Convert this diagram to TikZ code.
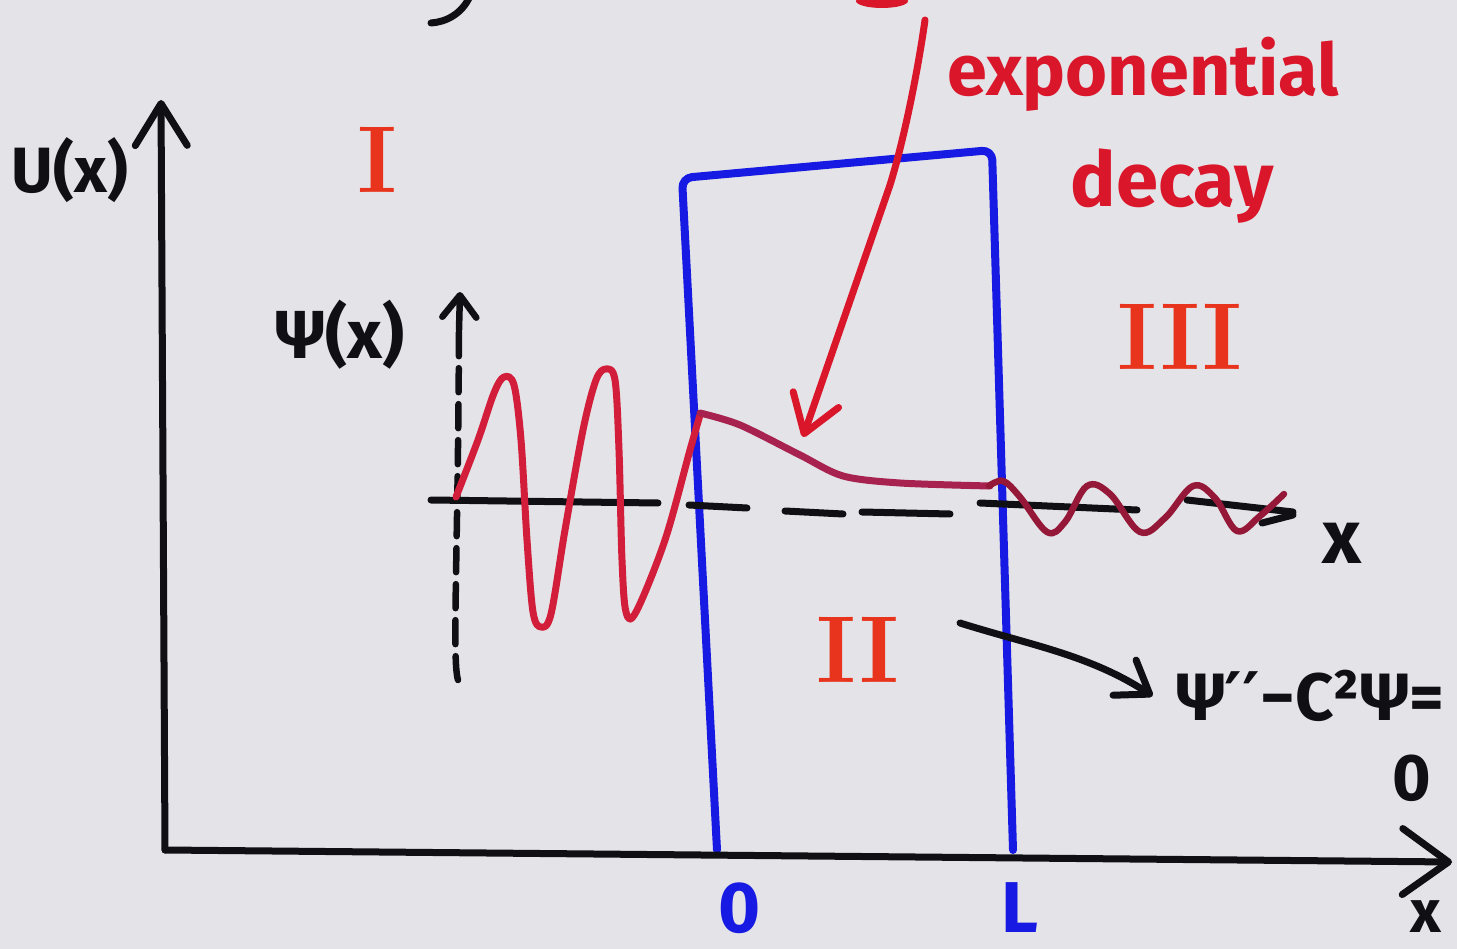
\documentclass[tikz,border=0pt]{standalone}
\usepackage{fontspec}
\newfontfamily\hand{Fira Sans}
\newfontfamily\dvsans{DejaVu Sans}
\usetikzlibrary{arrows.meta}
\definecolor{paper}{RGB}{228,228,232}
\definecolor{inkred}{RGB}{218,22,42}
\definecolor{wavered}{RGB}{210,30,58}
\definecolor{decayred}{RGB}{168,34,80}
\definecolor{darkwave}{RGB}{150,24,56}
\definecolor{numred}{RGB}{232,52,28}
\definecolor{inkblue}{RGB}{22,26,226}
\definecolor{ink}{RGB}{15,15,20}
\begin{document}
\begin{tikzpicture}[x=1pt,y=-1pt,line cap=round,line join=round,
  axisline/.style={draw=ink,line width=7pt},
  dashline/.style={draw=ink,line width=7pt},
  wall/.style={draw=inkblue,line width=8pt},
  wave/.style={line width=7pt},
  handtext/.style={inner sep=0pt,font=\hand\bfseries\fontsize{72}{80}\selectfont},
  numeral/.style={inner sep=0pt,text=numred,font=\rmfamily\bfseries\fontsize{95}{105}\selectfont},
  bigbarb/.style={-{Straight Barb[length=42pt,width=52pt,round]}},
  smallbarb/.style={-{Straight Barb[length=22pt,width=34pt,round]}},
]
\useasboundingbox (0,0) rectangle (1457,949);
\fill[paper] (0,0) rectangle (1457,949);

% fragments of cut-off writing at the top edge
\draw[ink,line width=7pt] (470,-4) .. controls (462,14) and (446,22) .. (431,23);
\fill[inkred] (882,1) ellipse [x radius=26pt,y radius=7pt];

% coordinates
\coordinate (O) at (165,850);
\coordinate (Utop) at (161,100);
\coordinate (Xend) at (1452,862);
\coordinate (w0b) at (717,850);
\coordinate (w0t) at (682,178);
\coordinate (wLt) at (992,150);
\coordinate (wLb) at (1013,850);
\coordinate (psibot) at (458,680);
\coordinate (psimid) at (459,330);
\coordinate (psitop) at (460,292);

% barrier
\draw[wall,rounded corners=10pt] (w0b) -- (w0t) -- (wLt) -- (wLb);

% main axes
\draw[axisline,bigbarb] (O) -- (Utop);
\draw[axisline,-{Straight Barb[length=46pt,width=66pt,round]}] (O) -- (Xend);

% psi axis (dashed)
\draw[ink,line width=6.5pt,dash pattern=on 24pt off 12pt] (psibot) .. controls (452,660) and (458,560) .. (psimid);
\draw[ink,line width=6.5pt,smallbarb] (psimid) -- (psitop);

% horizontal axis for psi
\draw[dashline] (431,500) -- (658,503);
\draw[dashline] (689,505) -- (747,508);
\draw[dashline] (785,511) -- (843,514);
\draw[dashline] (862,512) -- (950,514);
\draw[dashline] (980,503) -- (1137,510);
\draw[dashline] (1187,500) -- (1293,512);
\draw[dashline] (1262,523) -- (1293,515);

% wave function
\draw[wave,wavered] plot[smooth,tension=0.55] coordinates {
  (456,497) (478,440) (494,393) (504,377) (514,385) (521,440) (527,540) (533,612) (541,627) (551,614)
  (565,530) (583,430) (596,380) (606,369) (615,380) (619,450) (622,560) (626,612) (636,612)
  (665,540) (690,450) (700,415)};
\draw[wave,decayred] plot[smooth,tension=0.5] coordinates {
  (700,413) (740,425) (800,455) (843,476) (900,483) (990,486)};
\draw[wave,darkwave,line width=6.5pt] plot[smooth,tension=0.6] coordinates {
  (989,486) (1003,481) (1020,497) (1047,532) (1065,522) (1087,486) (1110,494) (1140,532)
  (1165,518) (1193,486) (1215,498) (1237,531) (1260,516) (1284,494)};

% red arrow to the decay
\coordinate (decayfrom) at (925,20);
\coordinate (decaybend) at (890,185);
\coordinate (decaytip) at (803,437);
\draw[inkred,line width=7pt,-{Straight Barb[length=36pt,width=48pt,round]}]
  (decayfrom) .. controls (918,70) and (904,140) .. (decaybend) -- (decaytip);

% labels
\node[handtext,text=ink,font=\hand\bfseries\fontsize{64}{72}\selectfont] (Ulab) at (70,170) {U(x)};
\node[handtext,text=ink,font=\hand\bfseries\fontsize{68}{76}\selectfont] (psilab) at (340,335) {Ψ(x)};
\node[numeral] (I) at (377,160) {I};
\node[numeral] (II) at (858,650) {II};
\node[numeral] (III) at (1180,337) {III};
\node[handtext,text=inkred,anchor=base] (expo) at (1143,96) {exponential};
\node[handtext,text=inkred,anchor=base,font=\hand\bfseries\fontsize{76}{84}\selectfont] (decay) at (1172,207) {decay};
\node[handtext,text=inkblue,anchor=base] (zero) at (740,932) {0};
\node[handtext,text=inkblue,anchor=base] (Lab) at (1020,932) {L};
\node[handtext,text=ink,anchor=base,font=\hand\bfseries\fontsize{76}{84}\selectfont] (xpsi) at (1342,563) {x};
\node[handtext,text=ink,anchor=base,font=\hand\bfseries\fontsize{60}{68}\selectfont] (xU) at (1426,932) {x};
\node[handtext,text=ink,anchor=base west,font=\hand\bfseries\fontsize{67}{75}\selectfont] (eq) at (1176,720) {Ψ{\dvsans\bfseries ′′}−C²Ψ=};
\node[handtext,text=ink,anchor=base,font=\hand\bfseries\fontsize{66}{74}\selectfont] (eqzero) at (1412,800) {0};

% arrow from region II to the equation
\coordinate (eqfrom) at (960,623);
\draw[ink,line width=7pt,shorten >=28pt,-{Straight Barb[length=30pt,width=42pt,round]}]
  (eqfrom) .. controls (1030,645) and (1090,655) .. ([yshift=-16pt]eq.west);
\end{tikzpicture}
\end{document}
